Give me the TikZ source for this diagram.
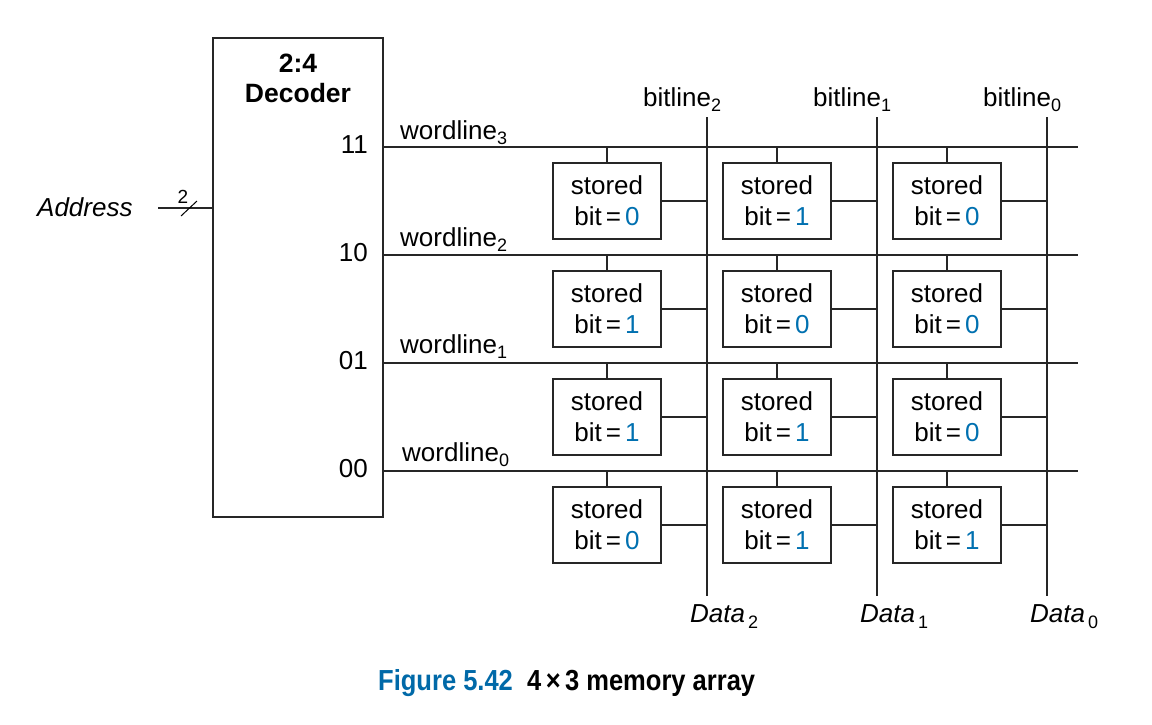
\documentclass[tikz,border=0pt]{standalone}
\usepackage{fontspec}
\setmainfont{Liberation Sans}
\definecolor{bitblue}{RGB}{0,112,176}
\definecolor{capblue}{RGB}{0,105,168}
\begin{document}
\begin{tikzpicture}[x=1pt,y=-1pt,
  wire/.style={line width=1.3pt,black!85},
  wordwire/.style={line width=1.8pt,black!85},
  bitwire/.style={line width=1.4pt,black!85},
  cellbox/.style={draw=black!85,line width=1.3pt,minimum width=108pt,minimum height=76pt,
    inner sep=0pt,align=center,font=\fontsize{26}{31}\selectfont},
  decbox/.style={draw=black!85,line width=1.3pt,minimum width=170pt,minimum height=479pt,inner sep=0pt},
  lbl/.style={inner sep=0pt,font=\fontsize{26}{31}\selectfont},
]
\useasboundingbox (0,0) rectangle (1152,724);

% decoder block
\node[decbox] (dec) at (298,277.5) {};
\node[lbl,anchor=base,font=\fontsize{26.5}{31}\selectfont\bfseries] (dname1) at (298,72) {2:4};
\node[lbl,anchor=base,font=\fontsize{26.5}{31}\selectfont\bfseries] (dname2) at (298,102) {Decoder};
\node[lbl,anchor=base east] (o3) at (368,153) {11};
\node[lbl,anchor=base east] (o2) at (368,261) {10};
\node[lbl,anchor=base east] (o1) at (368,369) {01};
\node[lbl,anchor=base east] (o0) at (368,477) {00};

% address bus
\node[lbl,anchor=base west,font=\fontsize{26}{31}\selectfont\itshape] (addr) at (37,216) {Address};
\coordinate (abus) at (158,208);
\draw[wordwire] (abus) -- (abus -| dec.west);
\coordinate (sl1) at (181,216);
\coordinate (sl2) at (197,201);
\draw[line width=1pt] (sl1) -- (sl2);
\node[inner sep=0pt,anchor=base,font=\fontsize{19}{20}\selectfont] (bw) at (183,203) {2};

% wordlines
\foreach \r/\y in {3/147,2/255,1/363,0/471}{
  \coordinate (wl\r e) at (1078,\y);
  \draw[wordwire] (dec.east |- wl\r e) -- (wl\r e);
}
\node[lbl,anchor=base west] (wn3) at (400,139) {wordline\raisebox{-5pt}{\fontsize{18}{20}\selectfont 3}};
\node[lbl,anchor=base west] (wn2) at (400,246) {wordline\raisebox{-5pt}{\fontsize{18}{20}\selectfont 2}};
\node[lbl,anchor=base west] (wn1) at (400,353) {wordline\raisebox{-5pt}{\fontsize{18}{20}\selectfont 1}};
\node[lbl,anchor=base west] (wn0) at (402,461) {wordline\raisebox{-5pt}{\fontsize{18}{20}\selectfont 0}};

% bitlines
\foreach \b/\x in {2/707,1/877,0/1047}{
  \coordinate (bl\b n) at (\x,117);
  \coordinate (bl\b s) at (\x,596);
  \draw[bitwire] (bl\b n) -- (bl\b s);
  \node[lbl,anchor=base west] (bn\b) at (\x-64,106) {bitline\raisebox{-5pt}{\fontsize{18}{20}\selectfont\b}};
  \node[lbl,anchor=base west,font=\fontsize{26}{31}\selectfont\itshape] (dn\b) at (\x-17,622)
    {Data\raisebox{-6pt}{\fontsize{18}{20}\selectfont\upshape\,\b}};
}

% memory cells
\foreach \r/\y/\vals in {3/201/{0,1,0},2/309/{1,0,0},1/417/{1,1,0},0/525/{0,1,1}}{
  \foreach \v [count=\i from 0] in \vals {
    \pgfmathtruncatemacro{\b}{2-\i}
    \pgfmathsetmacro{\cx}{607+170*\i}
    \node[cellbox] (c\r\b) at (\cx,\y) {stored\\bit\kern4pt=\kern4pt{\color{bitblue}\v}};
    \draw[wire] (c\r\b.north) -- (c\r\b.north |- wl\r e);
    \draw[wire] (c\r\b.east) -- (c\r\b.east -| bl\b n);
  }
}

% caption
\node[inner sep=0pt,anchor=base west,font=\fontsize{29}{32}\selectfont\bfseries,text=capblue] (cap1) at (378,690)
  {\scalebox{0.88}[1]{Figure 5.42}};
\node[inner sep=0pt,anchor=base west,font=\fontsize{29}{32}\selectfont\bfseries] (cap2) at (527,690)
  {\scalebox{0.88}[1]{4\kern5pt×\kern5pt3 memory array}};
\end{tikzpicture}
\end{document}
